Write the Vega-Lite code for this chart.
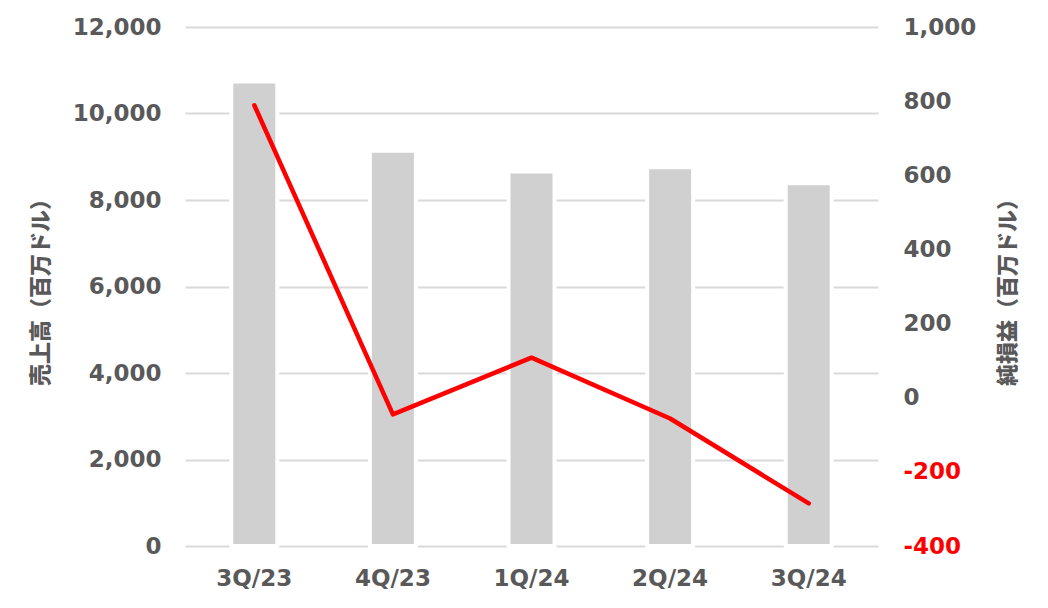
{
  "$schema": "https://vega.github.io/schema/vega-lite/v6.json",
  "autosize": {"type": "none"},
  "width": 693,
  "height": 519,
  "padding": {"left": 185, "top": 27, "right": 170, "bottom": 62},
  "background": "white",
  "config": {
    "view": {"stroke": null},
    "font": "DejaVu Sans",
    "axis": {
      "labelFont": "DejaVu Sans",
      "labelFontWeight": "bold",
      "labelFontSize": 23,
      "labelColor": "#595959",
      "titleFont": "Noto Sans CJK JP",
      "titleFontWeight": 900,
      "titleFontSize": 22,
      "titleColor": "#595959",
      "domain": false,
      "ticks": false
    }
  },
  "data": {
    "values": [
      {"q": "3Q/23", "sales": 10740, "net": 789},
      {"q": "4Q/23", "sales": 9140, "net": -45},
      {"q": "1Q/24", "sales": 8660, "net": 108},
      {"q": "2Q/24", "sales": 8760, "net": -56},
      {"q": "3Q/24", "sales": 8390, "net": -285}
    ]
  },
  "encoding": {
    "x": {
      "field": "q",
      "type": "ordinal",
      "sort": null,
      "scale": {"paddingInner": 0, "paddingOuter": 0},
      "axis": {"title": null, "labelAngle": 0, "labelPadding": 21, "grid": false}
    }
  },
  "layer": [
    {
      "mark": {"type": "bar", "color": "#d0d0d0", "stroke": "white", "strokeWidth": 4, "width": {"band": 0.332}},
      "encoding": {
        "y": {
          "field": "sales",
          "type": "quantitative",
          "scale": {"domain": [0, 12000], "nice": false},
          "axis": {
            "title": "売上高（百万ドル）",
            "values": [0, 2000, 4000, 6000, 8000, 10000, 12000],
            "format": ",.0f",
            "grid": true,
            "gridColor": "#d9d9d9",
            "gridWidth": 2,
            "labelPadding": 24,
            "titlePadding": 20
          }
        }
      }
    },
    {
      "mark": {"type": "line", "color": "#ff0000", "strokeWidth": 4.5, "strokeCap": "round", "strokeJoin": "round"},
      "encoding": {
        "y": {
          "field": "net",
          "type": "quantitative",
          "scale": {"domain": [-400, 1000], "nice": false, "zero": false},
          "axis": {
            "orient": "right",
            "title": "純損益（百万ドル）",
            "titleAngle": 270,
            "titleBaseline": "bottom",
            "values": [-400, -200, 0, 200, 400, 600, 800, 1000],
            "labelExpr": "(datum.value < 0 ? '-' : '') + format(abs(datum.value), ',.0f')",
            "grid": false,
            "labelPadding": 25,
            "titlePadding": 44,
            "labelColor": {"condition": {"test": "datum.value < 0", "value": "#ff0000"}, "value": "#595959"}
          }
        }
      }
    }
  ],
  "resolve": {"scale": {"y": "independent"}}
}
